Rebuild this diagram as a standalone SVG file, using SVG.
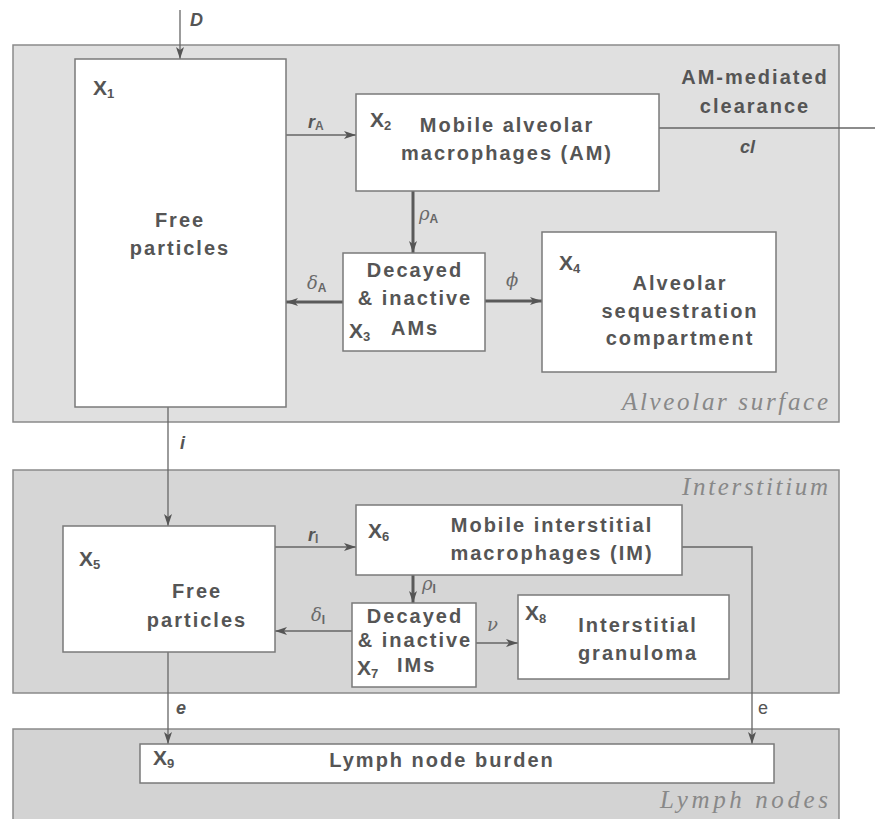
<svg xmlns="http://www.w3.org/2000/svg" width="875" height="819" viewBox="0 0 875 819">
<defs>
<style>
.region{stroke:#8a8a8a;stroke-width:1.5}
.box{fill:#ffffff;stroke:#7a7a7a;stroke-width:1.5}
.t{font-family:"Liberation Sans",Arial,sans-serif;font-weight:bold;font-size:20px;fill:#555;letter-spacing:2px}
.x{font-family:"Liberation Sans",Arial,sans-serif;font-weight:bold;font-size:21px;fill:#555}
.sub{font-size:13px}
.lab{font-family:"Liberation Sans",Arial,sans-serif;font-weight:bold;font-style:italic;font-size:18px;fill:#555}
.labn{font-family:"Liberation Sans",Arial,sans-serif;font-weight:normal;font-style:normal;font-size:18px;fill:#555}
.gr{font-family:"DejaVu Serif","Liberation Serif",serif;font-style:italic;font-size:18px;fill:#6a6a6a}
.gsub{font-family:"Liberation Sans",Arial,sans-serif;font-style:normal;font-weight:bold;font-size:12px;fill:#666}
.reg{font-family:"Liberation Serif","Times New Roman",serif;font-style:italic;font-weight:normal;font-size:25px;fill:#888}
.ln{fill:none;stroke:#666;stroke-width:1.3}
.thick{fill:none;stroke:#5a5a5a;stroke-width:3}
</style>
<marker id="ah" viewBox="0 0 12 8" refX="12" refY="4" markerWidth="12" markerHeight="8" markerUnits="userSpaceOnUse" orient="auto">
<path d="M0,0 L12,4 L0,8 L3,4 Z" fill="#555"/>
</marker>
<marker id="ahT" viewBox="0 0 12 8" refX="12" refY="4" markerWidth="12" markerHeight="8" markerUnits="userSpaceOnUse" orient="auto">
<path d="M0,0 L12,4 L0,8 L3,4 Z" fill="#555"/>
</marker>
</defs>
<rect width="875" height="819" fill="#ffffff"/>
<g id="regions">
<rect id="alveolar-surface" class="region" x="13" y="45" width="826" height="377" fill="#e0e0e0"/>
<rect id="interstitium" class="region" x="13" y="470" width="826" height="223" fill="#d6d6d6"/>
<rect id="lymph-nodes" class="region" x="13" y="729" width="826" height="95" fill="#d3d3d3"/>
<text class="reg" x="828" y="410" text-anchor="end" textLength="206" lengthAdjust="spacing">Alveolar surface</text>
<text class="reg" x="828" y="495" text-anchor="end" textLength="146" lengthAdjust="spacing">Interstitium</text>
<text class="reg" x="828" y="808" text-anchor="end" textLength="168" lengthAdjust="spacing">Lymph nodes</text>
</g>
<g id="connectors">
<line class="ln" x1="180" y1="10" x2="180" y2="59" marker-end="url(#ah)"/>
<text class="lab" x="190" y="26">D</text>
<line class="ln" x1="286" y1="135" x2="356" y2="135" marker-end="url(#ah)"/>
<text class="lab" x="308" y="128">r<tspan class="gsub" dy="2">A</tspan></text>
<line class="ln" x1="659" y1="128" x2="875" y2="128"/>
<text class="lab" x="740" y="153">cl</text>
<line class="thick" x1="413" y1="191" x2="413" y2="253" marker-end="url(#ahT)"/>
<text class="gr" x="419" y="220">ρ<tspan class="gsub" dy="3">A</tspan></text>
<line class="thick" x1="343" y1="302" x2="286" y2="302" marker-end="url(#ahT)"/>
<text class="gr" x="307" y="289">δ<tspan class="gsub" dy="3">A</tspan></text>
<line class="thick" x1="485" y1="301" x2="542" y2="301" marker-end="url(#ahT)"/>
<text class="gr" x="506" y="286">ϕ</text>
<line class="ln" x1="168" y1="407" x2="168" y2="526" marker-end="url(#ah)"/>
<text class="lab" x="180" y="449">i</text>
<line class="ln" x1="275" y1="547" x2="356" y2="547" marker-end="url(#ah)"/>
<text class="lab" x="308" y="541">r<tspan class="gsub" dy="2">I</tspan></text>
<line class="thick" x1="413" y1="575" x2="413" y2="603" marker-end="url(#ahT)"/>
<text class="gr" x="422" y="590">ρ<tspan class="gsub" dy="3">I</tspan></text>
<line class="ln" x1="352" y1="631" x2="275" y2="631" marker-end="url(#ah)"/>
<text class="gr" x="311" y="621">δ<tspan class="gsub" dy="3">I</tspan></text>
<line class="ln" x1="476" y1="643" x2="518" y2="643" marker-end="url(#ah)"/>
<text class="gr" x="487" y="631">ν</text>
<line class="ln" x1="168" y1="652" x2="168" y2="744" marker-end="url(#ah)"/>
<text class="lab" x="176" y="714">e</text>
<polyline class="ln" points="682,547 752,547 752,744" marker-end="url(#ah)"/>
<text class="labn" x="758" y="714">e</text>
</g>
<g id="X1">
<rect class="box" x="75" y="59" width="211" height="348"/>
<text class="x" x="93" y="95">X<tspan class="sub" dy="3">1</tspan></text>
<text class="t" x="180" y="227" text-anchor="middle">Free</text>
<text class="t" x="180" y="255" text-anchor="middle">particles</text>
</g>
<g id="X2">
<rect class="box" x="356" y="94" width="303" height="97"/>
<text class="x" x="370" y="127">X<tspan class="sub" dy="3">2</tspan></text>
<text class="t" x="507" y="132" text-anchor="middle">Mobile alveolar</text>
<text class="t" x="507" y="160" text-anchor="middle">macrophages  (AM)</text>
</g>
<g id="clearance">
<text class="t" x="755" y="84" text-anchor="middle">AM-mediated</text>
<text class="t" x="755" y="113" text-anchor="middle">clearance</text>
</g>
<g id="X3">
<rect class="box" x="343" y="253" width="142" height="98"/>
<text class="t" x="415" y="277" text-anchor="middle">Decayed</text>
<text class="t" x="415" y="305" text-anchor="middle">&amp; inactive</text>
<text class="x" x="349" y="338">X<tspan class="sub" dy="3">3</tspan></text>
<text class="t" x="391" y="335">AMs</text>
</g>
<g id="X4">
<rect class="box" x="542" y="232" width="234" height="140"/>
<text class="x" x="559" y="270">X<tspan class="sub" dy="3">4</tspan></text>
<text class="t" x="680" y="290" text-anchor="middle">Alveolar</text>
<text class="t" x="680" y="318" text-anchor="middle">sequestration</text>
<text class="t" x="680" y="345" text-anchor="middle">compartment</text>
</g>
<g id="X5">
<rect class="box" x="63" y="526" width="212" height="126"/>
<text class="x" x="79" y="566">X<tspan class="sub" dy="3">5</tspan></text>
<text class="t" x="197" y="598" text-anchor="middle">Free</text>
<text class="t" x="197" y="627" text-anchor="middle">particles</text>
</g>
<g id="X6">
<rect class="box" x="356" y="505" width="326" height="70"/>
<text class="x" x="368" y="538">X<tspan class="sub" dy="3">6</tspan></text>
<text class="t" x="552" y="532" text-anchor="middle">Mobile  interstitial</text>
<text class="t" x="552" y="560" text-anchor="middle">macrophages (IM)</text>
</g>
<g id="X7">
<rect class="box" x="352" y="603" width="124" height="84"/>
<text class="t" x="415" y="623" text-anchor="middle">Decayed</text>
<text class="t" x="415" y="647" text-anchor="middle">&amp; inactive</text>
<text class="x" x="357" y="675">X<tspan class="sub" dy="3">7</tspan></text>
<text class="t" x="397" y="672">IMs</text>
</g>
<g id="X8">
<rect class="box" x="518" y="595" width="211" height="84"/>
<text class="x" x="525" y="620">X<tspan class="sub" dy="3">8</tspan></text>
<text class="t" x="638" y="632" text-anchor="middle">Interstitial</text>
<text class="t" x="638" y="660" text-anchor="middle">granuloma</text>
</g>
<g id="X9">
<rect class="box" x="140" y="744" width="634" height="39"/>
<text class="x" x="153" y="765">X<tspan class="sub" dy="3">9</tspan></text>
<text class="t" x="442" y="767" text-anchor="middle">Lymph node burden</text>
</g>
</svg>
